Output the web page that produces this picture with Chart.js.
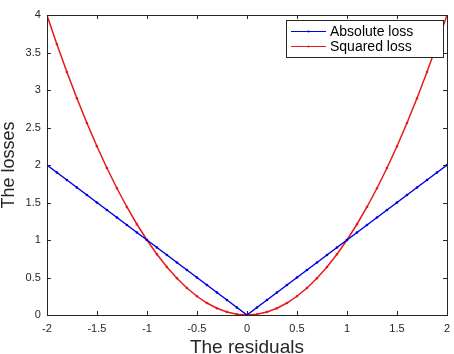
<!DOCTYPE html>
<html>
<head>
<meta charset="utf-8">
<script src="https://cdn.jsdelivr.net/npm/chart.js@4/dist/chart.umd.min.js"></script>
<style>
  html, body { margin: 0; padding: 0; background: #fff; }
  #wrap { width: 454px; height: 354px; }
</style>
</head>
<body>
<div id="wrap"><canvas id="lossChart" width="454" height="354"></canvas></div>
<script>
// Residuals (x) and the two losses
const residuals = [-2, -1.9, -1.8, -1.7, -1.6, -1.5, -1.4, -1.3, -1.2, -1.1, -1, -0.9, -0.8, -0.7, -0.6, -0.5, -0.4, -0.3, -0.2, -0.1, 0,
                   0.1, 0.2, 0.3, 0.4, 0.5, 0.6, 0.7, 0.8, 0.9, 1, 1.1, 1.2, 1.3, 1.4, 1.5, 1.6, 1.7, 1.8, 1.9, 2];
const absoluteLoss = [2, 1.9, 1.8, 1.7, 1.6, 1.5, 1.4, 1.3, 1.2, 1.1, 1, 0.9, 0.8, 0.7, 0.6, 0.5, 0.4, 0.3, 0.2, 0.1, 0,
                      0.1, 0.2, 0.3, 0.4, 0.5, 0.6, 0.7, 0.8, 0.9, 1, 1.1, 1.2, 1.3, 1.4, 1.5, 1.6, 1.7, 1.8, 1.9, 2];
const squaredLoss = [4, 3.61, 3.24, 2.89, 2.56, 2.25, 1.96, 1.69, 1.44, 1.21, 1, 0.81, 0.64, 0.49, 0.36, 0.25, 0.16, 0.09, 0.04, 0.01, 0,
                     0.01, 0.04, 0.09, 0.16, 0.25, 0.36, 0.49, 0.64, 0.81, 1, 1.21, 1.44, 1.69, 1.96, 2.25, 2.56, 2.89, 3.24, 3.61, 4];
const xTicks = [-2, -1.5, -1, -0.5, 0, 0.5, 1, 1.5, 2];
const yTicks = [0, 0.5, 1, 1.5, 2, 2.5, 3, 3.5, 4];

const textColor = '#262626';
const fontFamily = '"Liberation Sans", Arial, Helvetica, sans-serif';

function toPoints(ys) {
    return residuals.map((x, i) => ({ x: x, y: ys[i] }));
}

// Box round the axes, inward ticks on all four sides, and a boxed legend
const matlabFrame = {
    id: 'matlabFrame',
    afterDraw(chart) {
        const ctx = chart.ctx;
        const a = chart.chartArea;
        const sx = chart.scales.x, sy = chart.scales.y;
        ctx.save();
        ctx.strokeStyle = textColor;
        ctx.lineWidth = 1;
        ctx.strokeRect(Math.round(a.left) + 0.5, Math.round(a.top) + 0.5,
                       Math.round(a.right - a.left), Math.round(a.bottom - a.top));
        const len = 4;
        ctx.beginPath();
        xTicks.forEach(v => {
            const px = Math.round(sx.getPixelForValue(v)) + 0.5;
            ctx.moveTo(px, a.bottom); ctx.lineTo(px, a.bottom - len);
            ctx.moveTo(px, a.top); ctx.lineTo(px, a.top + len);
        });
        yTicks.forEach(v => {
            const py = Math.round(sy.getPixelForValue(v)) + 0.5;
            ctx.moveTo(a.left, py); ctx.lineTo(a.left + len, py);
            ctx.moveTo(a.right, py); ctx.lineTo(a.right - len, py);
        });
        ctx.stroke();

        // legend
        const lx = a.right - 161, ly = a.top + 5, lw = 157, lh = 37;
        ctx.fillStyle = '#fff';
        ctx.fillRect(lx, ly, lw, lh);
        ctx.strokeStyle = textColor;
        ctx.strokeRect(Math.round(lx) + 0.5, Math.round(ly) + 0.5, lw, lh);
        ctx.font = '14px ' + fontFamily;
        ctx.textBaseline = 'middle';
        chart.data.datasets.forEach((ds, i) => {
            const cy = Math.round(ly + 11 + i * 15) + 0.5;
            ctx.strokeStyle = ds.borderColor;
            ctx.beginPath();
            ctx.moveTo(lx + 5, cy); ctx.lineTo(lx + 40, cy);
            ctx.stroke();
            ctx.fillStyle = ds.borderColor;
            ctx.beginPath();
            ctx.arc(lx + 22.5, cy, 1, 0, Math.PI * 2);
            ctx.fill();
            ctx.fillStyle = '#000';
            ctx.fillText(ds.label, lx + 44, cy + 1);
        });
        ctx.restore();
    }
};

const chart = new Chart(document.getElementById('lossChart').getContext('2d'), {
    type: 'line',
    data: {
        datasets: [{
            label: 'Absolute loss',
            data: toPoints(absoluteLoss),
            borderColor: '#0000e6',
            backgroundColor: '#0000e6',
            borderWidth: 1.5,
            pointRadius: 0.6,
            pointHoverRadius: 0.6,
            tension: 0,
            fill: false
        }, {
            label: 'Squared loss',
            data: toPoints(squaredLoss),
            borderColor: '#e61a1a',
            backgroundColor: '#e61a1a',
            borderWidth: 1.5,
            pointRadius: 0.6,
            pointHoverRadius: 0.6,
            tension: 0,
            fill: false
        }]
    },
    options: {
        responsive: false,
        animation: false,
        layout: { padding: { top: 15, right: 0, left: -2, bottom: -5 } },
        plugins: {
            legend: { display: false },
            tooltip: { enabled: false }
        },
        scales: {
            x: {
                type: 'linear',
                min: -2,
                max: 2,
                grid: { display: false, drawTicks: false },
                border: { display: false },
                afterBuildTicks: s => { s.ticks = xTicks.map(v => ({ value: v })); },
                afterFit: s => { s.paddingRight = 7; },
                ticks: {
                    padding: 7,
                    color: textColor,
                    font: { family: fontFamily, size: 11 },
                    maxRotation: 0,
                    callback: v => String(v)
                },
                title: {
                    display: true,
                    text: 'The residuals',
                    color: textColor,
                    font: { family: fontFamily, size: 19 },
                    padding: { top: -6, bottom: 0 }
                }
            },
            y: {
                type: 'linear',
                min: 0,
                max: 4,
                grid: { display: false, drawTicks: false },
                border: { display: false },
                afterBuildTicks: s => { s.ticks = yTicks.map(v => ({ value: v })); },
                ticks: {
                    padding: 6,
                    color: textColor,
                    font: { family: fontFamily, size: 11 },
                    callback: v => String(v)
                },
                title: {
                    display: true,
                    text: 'The losses',
                    color: textColor,
                    font: { family: fontFamily, size: 18 },
                    padding: { top: 0, bottom: 0 }
                }
            }
        }
    },
    plugins: [matlabFrame]
});
</script>
</body>
</html>
